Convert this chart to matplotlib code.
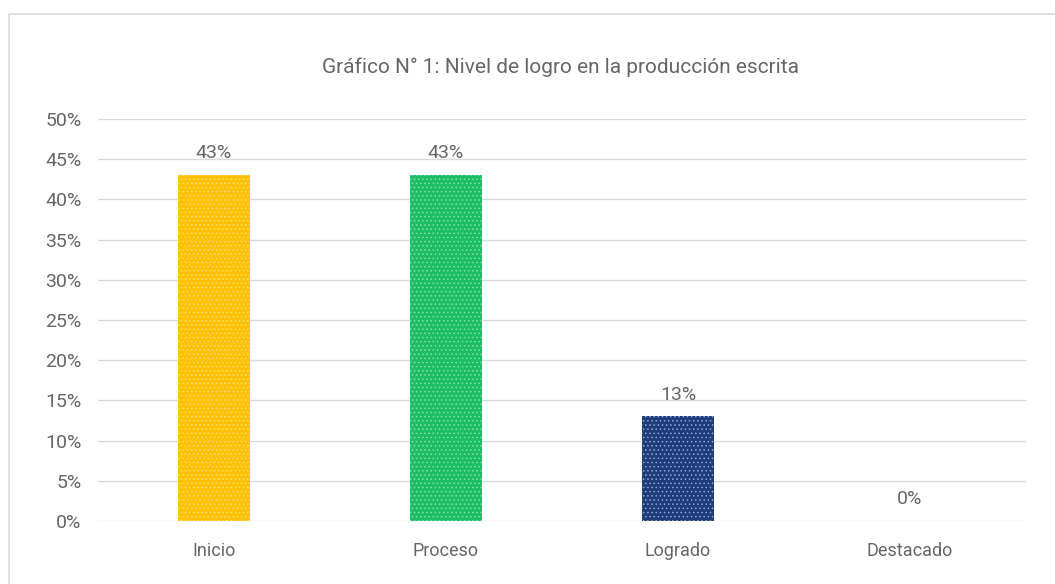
import matplotlib.pyplot as plt
from matplotlib.patches import Rectangle

# chart data
categories = ['Inicio', 'Proceso', 'Logrado', 'Destacado']
values = [0.43, 0.43, 0.13, 0.0]
labels = ['43%', '43%', '13%', '0%']
yticks = [0.0, 0.05, 0.10, 0.15, 0.20, 0.25, 0.30, 0.35, 0.40, 0.45, 0.50]
ytick_labels = ['0%', '5%', '10%', '15%', '20%', '25%', '30%', '35%', '40%', '45%', '50%']

colors = ['#FFC000', '#1EBE68', '#203C7A', '#FFFFFF']
hatch_cols = ['#FFE27A', '#7EE0A8', '#8FA6D8', '#FFFFFF']

plt.rcParams['font.family'] = ['Roboto', 'DejaVu Sans']
plt.rcParams['hatch.linewidth'] = 0.6

W, H = 1055, 584
fig = plt.figure(figsize=(W / 100, H / 100), dpi=100)
fig.patch.set_facecolor('white')

# outer chart border
fig.patches.append(Rectangle((9 / W, -0.05), 1.1, (H - 14) / H + 0.05,
                             transform=fig.transFigure, fill=False,
                             edgecolor='#D9D9D9', lw=1.2))

ax = fig.add_axes([98 / W, (H - 521) / H, (1026 - 98) / W, (521 - 119) / H])

x = range(len(categories))
bars = ax.bar(x, values, width=0.31, color=colors, zorder=2, linewidth=0)
for b, hc in zip(bars, hatch_cols):
    b.set_hatch('....')
    b.set_edgecolor(hc)
    b.set_linewidth(0)

for i, (v, lab) in enumerate(zip(values, labels)):
    ax.text(i, v + 0.016, lab, ha='center', va='bottom', fontsize=14,
            color='#666666')

ax.set_xlim(-0.5, 3.5)
ax.set_ylim(0, 0.5)
ax.set_yticks(yticks)
ax.set_yticklabels(ytick_labels)
ax.set_xticks(list(x))
ax.set_xticklabels(categories)
ax.tick_params(axis='both', length=0, labelcolor='#666666')
ax.tick_params(axis='y', pad=12, labelsize=14)
ax.tick_params(axis='x', pad=15, labelsize=13)
ax.grid(axis='y', color='#D9D9D9', lw=1, zorder=0)
ax.set_axisbelow(True)
for s in ax.spines.values():
    s.set_visible(False)

fig.text(561 / W, 1 - 67 / H, 'Gráfico N° 1: Nivel de logro en la producción escrita',
         ha='center', va='center', fontsize=15, color='#666666')

fig.savefig('out.png', dpi=100)
